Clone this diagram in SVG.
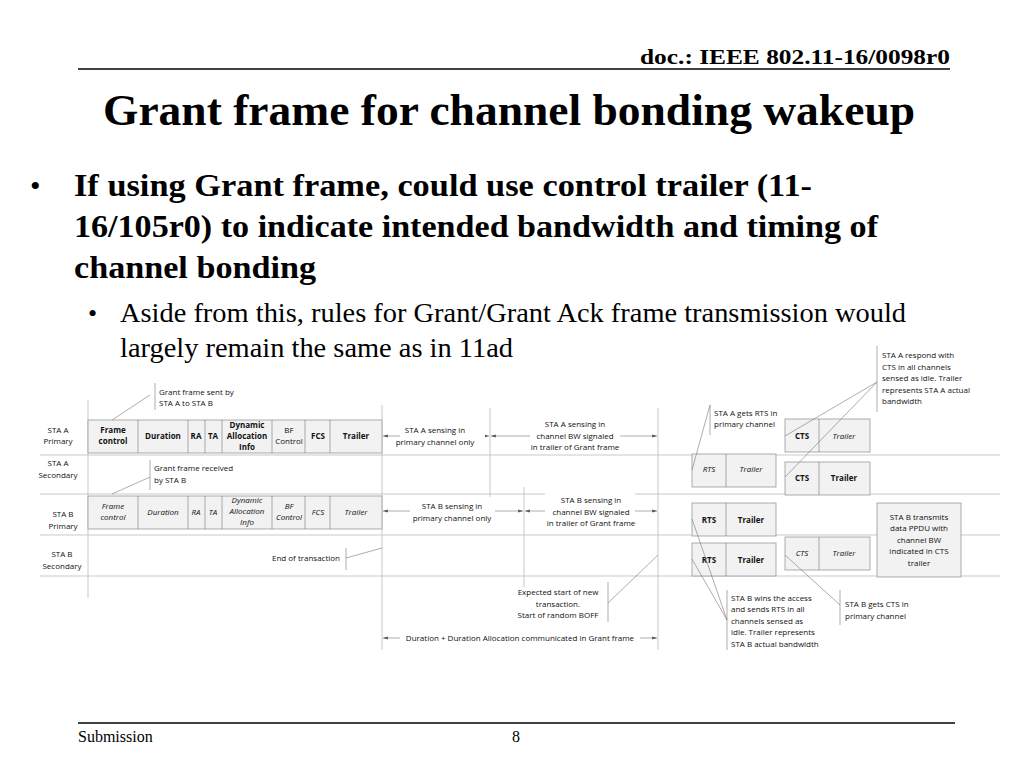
<svg xmlns="http://www.w3.org/2000/svg" width="1024" height="768" viewBox="0 0 1024 768">
<defs>
<style>
.t{font-family:"Liberation Serif",serif;fill:#000}
.s{font-family:"Open Sans","DejaVu Sans",sans-serif;font-size:8px;fill:#111;text-anchor:middle}
.l{text-anchor:start}
.b{font-weight:bold}.i{font-style:italic}
.box{fill:#f2f2f2;stroke:#999;stroke-width:0.8}
.g{stroke:#bbb;stroke-width:0.8;fill:none}
.c{stroke:#777;stroke-width:0.6;fill:none}
.a{stroke:#999;stroke-width:0.8;marker-start:url(#ah);marker-end:url(#ah)}
</style>
<marker id="ah" viewBox="0 0 10 10" refX="10" refY="5" markerWidth="8" markerHeight="6" orient="auto-start-reverse"><path d="M0,2 L10,5 L0,8z" fill="#555"/></marker>
</defs>
<rect width="1024" height="768" fill="#fff"/>
<text class="t b" x="640" y="64" font-size="22" textLength="310" lengthAdjust="spacingAndGlyphs">doc.: IEEE 802.11-16/0098r0</text>
<line x1="78" y1="69" x2="950" y2="69" stroke="#000" stroke-width="1.5"/>
<text class="t b" x="103" y="125" font-size="45" textLength="812" lengthAdjust="spacingAndGlyphs">Grant frame for channel bonding wakeup</text>
<text class="t" x="30" y="196" font-size="30">•</text>
<text class="t b" font-size="32"><tspan x="74" y="196" textLength="738" lengthAdjust="spacingAndGlyphs">If using Grant frame, could use control trailer (11-</tspan></text>
<text class="t b" font-size="32"><tspan x="74" y="237" textLength="804" lengthAdjust="spacingAndGlyphs">16/105r0) to indicate intended bandwidth and timing of</tspan></text>
<text class="t b" font-size="32"><tspan x="74" y="278" textLength="242" lengthAdjust="spacingAndGlyphs">channel bonding</tspan></text>
<text class="t" x="88" y="322" font-size="26">•</text>
<text class="t" font-size="28" x="120" y="322" textLength="786" lengthAdjust="spacingAndGlyphs">Aside from this, rules for Grant/Grant Ack frame transmission would</text>
<text class="t" font-size="28" x="120" y="357" textLength="393" lengthAdjust="spacingAndGlyphs">largely remain the same as in 11ad</text>
<line x1="78" y1="723" x2="955" y2="723" stroke="#000" stroke-width="1.5"/>
<text class="t" x="78" y="742" font-size="16">Submission</text>
<text class="t" x="516" y="742" font-size="16" text-anchor="middle">8</text>

<g id="grid">
<line class="g" x1="40" y1="455" x2="1000" y2="455"/>
<line class="g" x1="40" y1="494" x2="1000" y2="494"/>
<line class="g" x1="40" y1="535" x2="1000" y2="535"/>
<line class="g" x1="40" y1="576" x2="1000" y2="576"/>
<line class="g" x1="88" y1="400" x2="88" y2="598"/>
<line class="g" x1="382" y1="405" x2="382" y2="650"/>
<line class="g" x1="490" y1="408" x2="490" y2="500"/>
<line class="g" x1="524" y1="487" x2="524" y2="587"/>
<line class="g" x1="658" y1="408" x2="658" y2="650"/>
</g>
<g id="labels">
<text class="s"><tspan x="58" y="433">STA A</tspan><tspan x="58" y="444">Primary</tspan></text>
<text class="s"><tspan x="58" y="466">STA A</tspan><tspan x="58" y="478">Secondary</tspan></text>
<text class="s"><tspan x="63" y="517">STA B</tspan><tspan x="63" y="529">Primary</tspan></text>
<text class="s"><tspan x="62" y="557">STA B</tspan><tspan x="62" y="569">Secondary</tspan></text>
</g>
<g id="frameA">
<rect class="box" x="88" y="420" width="294" height="33"/>
<path class="c" d="M138,420V453M188,420V453M205,420V453M222,420V453M272,420V453M305,420V453M330,420V453"/>
<text class="s b"><tspan x="113" y="433">Frame</tspan><tspan x="113" y="444">control</tspan></text>
<text class="s b" x="163" y="439">Duration</text>
<text class="s b" x="196" y="439">RA</text>
<text class="s b" x="213" y="439">TA</text>
<text class="s b"><tspan x="247" y="428">Dynamic</tspan><tspan x="247" y="439">Allocation</tspan><tspan x="247" y="450">Info</tspan></text>
<text class="s"><tspan x="289" y="433">BF</tspan><tspan x="289" y="444">Control</tspan></text>
<text class="s b" x="318" y="439">FCS</text>
<text class="s b" x="356" y="439">Trailer</text>
</g>
<g id="frameB">
<rect class="box" x="88" y="496" width="294" height="33"/>
<path class="c" d="M138,496V529M188,496V529M205,496V529M222,496V529M272,496V529M305,496V529M330,496V529"/>
<text class="s i"><tspan x="113" y="509">Frame</tspan><tspan x="113" y="520">control</tspan></text>
<text class="s i" x="163" y="515">Duration</text>
<text class="s i" x="196" y="515">RA</text>
<text class="s i" x="213" y="515">TA</text>
<text class="s i"><tspan x="247" y="503">Dynamic</tspan><tspan x="247" y="514">Allocation</tspan><tspan x="247" y="525">Info</tspan></text>
<text class="s i"><tspan x="289" y="509">BF</tspan><tspan x="289" y="520">Control</tspan></text>
<text class="s i" x="318" y="515">FCS</text>
<text class="s i" x="356" y="515">Trailer</text>
</g>
<g id="rtscts">
<rect class="box" x="785" y="419" width="85" height="33"/><line class="c" x1="819" y1="419" x2="819" y2="452"/>
<text class="s b" x="802" y="439">CTS</text><text class="s i" x="844" y="439">Trailer</text>
<rect class="box" x="692" y="454" width="84" height="33"/><line class="c" x1="726" y1="454" x2="726" y2="487"/>
<text class="s i" x="709" y="472">RTS</text><text class="s i" x="751" y="472">Trailer</text>
<rect class="box" x="785" y="462" width="85" height="33"/><line class="c" x1="819" y1="462" x2="819" y2="495"/>
<text class="s b" x="802" y="481">CTS</text><text class="s b" x="844" y="481">Trailer</text>
<rect class="box" x="692" y="503" width="84" height="33"/><line class="c" x1="726" y1="503" x2="726" y2="536"/>
<text class="s b" x="709" y="523">RTS</text><text class="s b" x="751" y="523">Trailer</text>
<rect class="box" x="692" y="543" width="84" height="33"/><line class="c" x1="726" y1="543" x2="726" y2="576"/>
<text class="s b" x="709" y="563">RTS</text><text class="s b" x="751" y="563">Trailer</text>
<rect class="box" x="785" y="537" width="85" height="33"/><line class="c" x1="819" y1="537" x2="819" y2="570"/>
<text class="s i" x="802" y="556">CTS</text><text class="s i" x="844" y="556">Trailer</text>
<rect class="box" x="877" y="503" width="84" height="74"/>
<text class="s"><tspan x="919" y="520">STA B transmits</tspan><tspan x="919" y="531">data PPDU with</tspan><tspan x="919" y="543">channel BW</tspan><tspan x="919" y="554">indicated in CTS</tspan><tspan x="919" y="566">trailer</tspan></text>
</g>
<g id="connectors">
<line class="a" x1="383" y1="436" x2="489" y2="436"/>
<line class="a" x1="491" y1="436" x2="657" y2="436"/>
<line class="a" x1="383" y1="511" x2="523" y2="511"/>
<line class="a" x1="525" y1="511" x2="657" y2="511"/>
<line class="a" x1="383" y1="638" x2="657" y2="638"/>
<path class="c" d="M155,383V410M150,395L112,420"/>
<path class="c" d="M150,460V490M150,477L112,494"/>
<path class="c" d="M346,548V570M346,558L382,548"/>
<path class="c" d="M608,582V622M608,603L658,555"/>
<path class="c" d="M710,405V435M710,405L692,470"/>
<path class="c" d="M877,346V412M877,382L785,436M877,382L785,477"/>
<path class="c" d="M727,590V650M727,620L692,519M727,620L692,559"/>
<path class="c" d="M840,590V625M840,605L785,555"/>
</g>
<g id="notes">
<rect x="400" y="420" width="85" height="30" fill="#fff"/>
<rect x="530" y="416" width="90" height="38" fill="#fff"/>
<rect x="410" y="497" width="85" height="28" fill="#fff"/>
<rect x="545" y="492" width="90" height="38" fill="#fff"/>
<rect x="400" y="631" width="240" height="14" fill="#fff"/>
<text class="s"><tspan x="435" y="433">STA A sensing in</tspan><tspan x="435" y="445">primary channel only</tspan></text>
<text class="s"><tspan x="575" y="427">STA A sensing in</tspan><tspan x="575" y="439">channel BW signaled</tspan><tspan x="575" y="450">in trailer of Grant frame</tspan></text>
<text class="s"><tspan x="452" y="509">STA B sensing in</tspan><tspan x="452" y="521">primary channel only</tspan></text>
<text class="s"><tspan x="591" y="503">STA B sensing in</tspan><tspan x="591" y="515">channel BW signaled</tspan><tspan x="591" y="526">in trailer of Grant frame</tspan></text>
<text class="s" x="520" y="641">Duration + Duration Allocation communicated in Grant frame</text>
<text class="s l"><tspan x="159" y="395">Grant frame sent by</tspan><tspan x="159" y="406">STA A to STA B</tspan></text>
<text class="s l"><tspan x="154" y="471">Grant frame received</tspan><tspan x="154" y="483">by STA B</tspan></text>
<text class="s" x="306" y="561">End of transaction</text>
<text class="s"><tspan x="558" y="595">Expected start of new</tspan><tspan x="558" y="607">transaction.</tspan><tspan x="558" y="618">Start of random BOFF</tspan></text>
<text class="s l"><tspan x="714" y="416">STA A gets RTS in</tspan><tspan x="714" y="427">primary channel</tspan></text>
<text class="s l"><tspan x="882" y="358">STA A respond with</tspan><tspan x="882" y="370">CTS in all channels</tspan><tspan x="882" y="381">sensed as idle. Trailer</tspan><tspan x="882" y="393">represents STA A actual</tspan><tspan x="882" y="404">bandwidth</tspan></text>
<text class="s l"><tspan x="731" y="601">STA B wins the access</tspan><tspan x="731" y="612">and sends RTS in all</tspan><tspan x="731" y="624">channels sensed as</tspan><tspan x="731" y="635">idle. Trailer represents</tspan><tspan x="731" y="647">STA B actual bandwidth</tspan></text>
<text class="s l"><tspan x="845" y="607">STA B gets CTS in</tspan><tspan x="845" y="619">primary channel</tspan></text>
</g>
</svg>
